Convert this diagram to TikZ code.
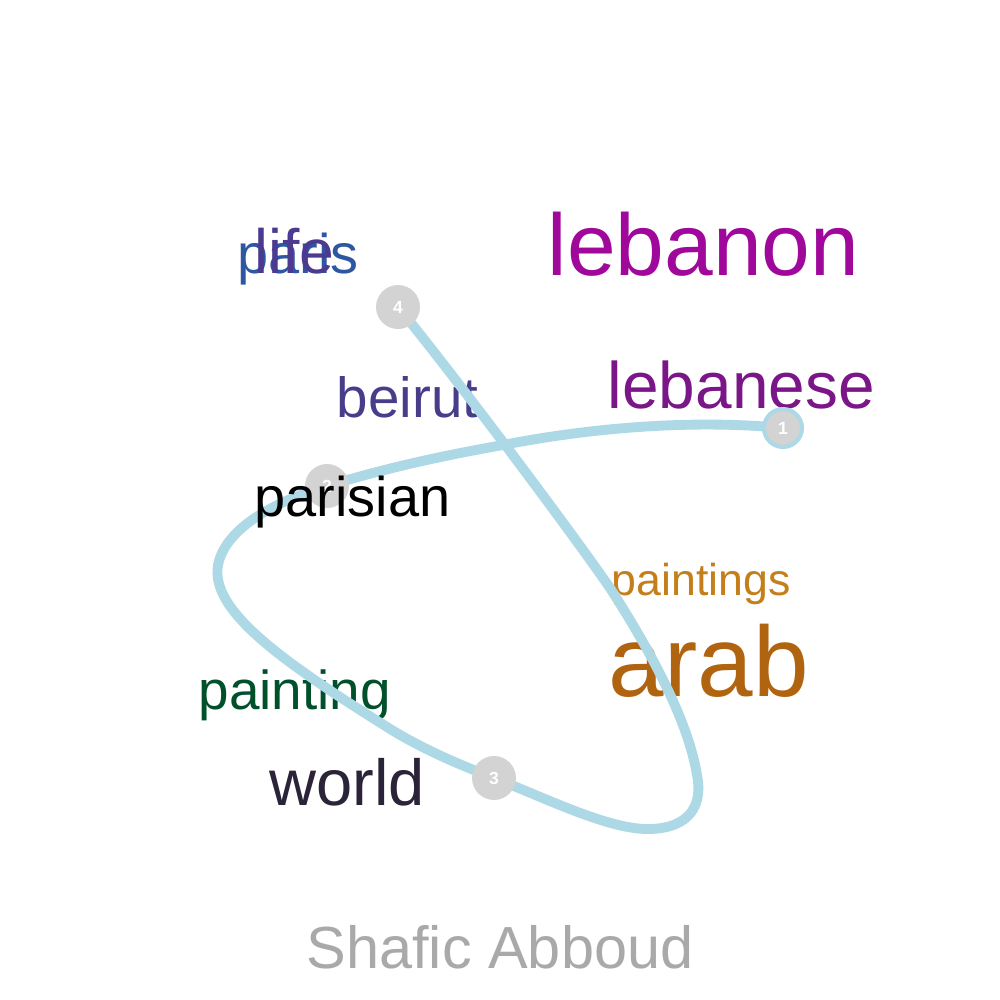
\documentclass[tikz,border=0pt]{standalone}
\usepackage{fontspec}
\setmainfont{Liberation Sans}
\definecolor{clebanon}{HTML}{A0089C}
\definecolor{clebanese}{HTML}{7B1689}
\definecolor{cbeirut}{HTML}{483D8B}
\definecolor{cparisian}{HTML}{000000}
\definecolor{cpaintings}{HTML}{C47F1A}
\definecolor{carab}{HTML}{B1640F}
\definecolor{cpainting}{HTML}{00502C}
\definecolor{cworld}{HTML}{2B2339}
\definecolor{cparis}{HTML}{2D57A3}
\definecolor{clife}{HTML}{4B3A8F}
\definecolor{ctitle}{HTML}{A9A9A9}
\definecolor{cpath}{HTML}{ADD8E6}
\definecolor{cdot}{HTML}{D3D3D3}
\tikzset{
  word/.style={inner sep=0pt, anchor=base west},
  fs/.style={font=\fontsize{#1}{#1}\selectfont},
  stop/.style={circle, fill=cdot, inner sep=0pt, minimum size=12.5pt,
    text=white, font=\fontsize{5}{5}\selectfont\bfseries},
  trail/.style={draw=cpath, line width=2.8pt, line cap=round, line join=round},
}
\begin{document}
\begin{tikzpicture}[x=0.01cm, y=-0.01cm]
\fill[white] (0,0) rectangle (1000,1000);
\useasboundingbox (0,0) rectangle (1000,1000);
% words
\node[word, fs=24.9pt, text=clebanon] (lebanon) at (547,275) {lebanon};
\node[word, fs=18.7pt, text=clebanese] (lebanese) at (607,408) {lebanese};
\node[word, fs=16.1pt, text=cbeirut] (beirut) at (336,417) {beirut};
\node[word, fs=12.7pt, text=cpaintings] (paintings) at (611,595) {paintings};
\node[word, fs=28.4pt, text=carab] (arab) at (608,696) {arab};
\node[word, fs=15.6pt, text=cpainting] (painting) at (198,709) {painting};
\node[word, fs=18.5pt, text=cworld] (world) at (269,805) {world};
\node[word, fs=15.9pt, text=cparis] (paris) at (237,273) {paris};
\node[word, fs=17.8pt, text=clife] (life) at (254,273) {life};
\node[fs=16.9pt, text=ctitle, inner sep=0pt, anchor=base] (title) at (500,968) {Shafic Abboud};
% stop positions
\coordinate (p1) at (783,428);
\coordinate (p2) at (327,486);
\coordinate (p3) at (494,778);
\coordinate (p4) at (398,307);
% trail
\draw[trail] (p1)
  .. controls (700,420) and (600,426) .. (503,445)
  .. controls (430,458) and (380,470) .. (p2)
  .. controls (270,503) and (225,530) .. (218,565)
  .. controls (210,610) and (280,660) .. (387,727)
  .. controls (420,748) and (460,765) .. (p3)
  .. controls (550,800) and (610,830) .. (650,829)
  .. controls (690,828) and (703,805) .. (697,775)
  .. controls (688,720) and (650,650) .. (610,588)
  .. controls (570,530) and (450,370) .. (p4);
% stops
\node[stop, minimum size=10.8pt, draw=cpath, line width=1.15pt] (s1) at (p1) {1};
\node[stop] (s2) at (p2) {2};
\node[stop] (s3) at (p3) {3};
\node[stop] (s4) at (p4) {4};
\node[word, fs=15.9pt, text=cparisian] (parisian) at (254,516) {parisian};
\end{tikzpicture}
\end{document}
